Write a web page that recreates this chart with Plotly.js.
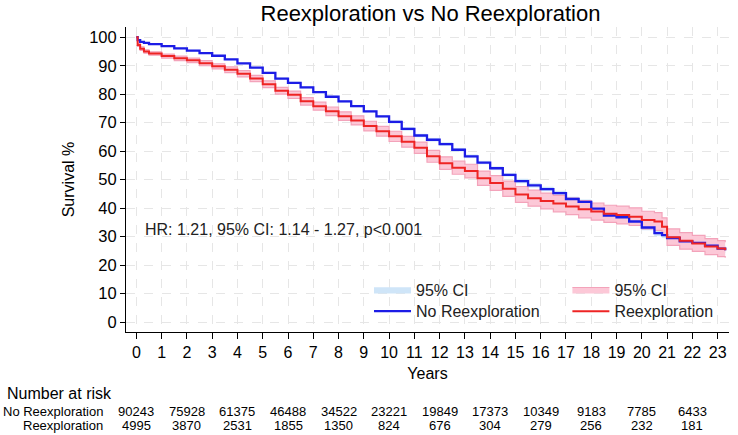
<!DOCTYPE html>
<html>
<head>
<meta charset="utf-8">
<script src="https://cdn.plot.ly/plotly-3.0.1.min.js"></script>
<style>html,body{margin:0;padding:0;background:#fff;}#chart{width:738px;height:435px;}</style>
</head>
<body>
<div id="chart"></div>
<script>
// Time points (years)
const years = [0,0.05,0.15,0.3,0.5,1,1.5,2,2.5,3,3.5,4,4.5,5,5.5,6,6.5,7,7.5,8,8.5,9,9.5,10,10.5,11,11.5,12,12.5,13,13.5,14,14.5,15,15.5,16,16.5,17,17.5,18,18.5,19,19.5,20,20.5,20.8,21,21.5,22,22.5,23,23.3];
// No Reexploration survival % and 95% CI
const survNo = [100,99.0,98.4,98.0,97.6,96.9,96.1,95.3,94.4,93.5,92.2,90.8,89.3,87.5,85.5,84.0,82.4,80.7,79.1,77.5,75.8,74.0,72.2,70.3,67.8,65.5,64.0,62.5,60.5,58.2,56.0,54.0,51.7,49.5,48.0,46.7,45.3,43.2,42.2,39.8,37.4,36.8,35.3,33.2,31.2,30.5,29.5,28.3,27.8,26.8,25.8,25.2];
const loNo = [100,98.8,98.2,97.8,97.4,96.7,95.9,95.1,94.2,93.3,92.0,90.6,89.1,87.2,85.2,83.7,82.1,80.4,78.8,77.2,75.5,73.7,71.9,69.8,67.3,65.0,63.5,62.0,60.0,57.7,55.5,53.5,51.2,48.8,47.3,46.0,44.6,42.5,41.5,39.1,36.7,36.1,34.6,32.3,30.3,29.6,28.6,27.4,26.9,25.9,24.9,24.3];
const hiNo = [100,99.2,98.6,98.2,97.8,97.1,96.3,95.5,94.6,93.7,92.4,91.0,89.5,87.8,85.8,84.3,82.7,81.0,79.4,77.8,76.1,74.3,72.5,70.8,68.3,66.0,64.5,63.0,61.0,58.7,56.5,54.5,52.2,50.2,48.7,47.4,46.0,43.9,42.9,40.5,38.1,37.5,36.0,34.1,32.1,31.4,30.4,29.2,28.7,27.7,26.7,26.1];
// Reexploration survival % and 95% CI
const survRe = [100,97.3,96.0,95.0,94.3,93.4,92.6,91.9,90.9,89.8,88.6,87.2,85.5,83.5,81.2,79.8,77.5,75.8,74.0,72.3,70.8,68.8,67.0,65.2,63.3,61.2,58.2,55.8,54.2,53.0,50.5,48.8,46.8,44.8,43.5,42.5,41.6,40.6,39.6,38.8,38.0,37.6,37.0,35.8,35.3,33.5,29.8,28.5,27.6,26.5,25.8,25.2];
const loRe = [100,96.8,95.4,94.4,93.7,92.7,91.8,91.1,90.0,88.9,87.6,86.1,84.4,82.3,80.0,78.5,76.2,74.4,72.5,70.8,69.2,67.1,65.3,63.4,61.4,59.2,56.1,53.6,51.9,50.6,48.0,46.2,44.1,42.0,40.7,39.7,38.7,37.7,36.6,35.8,35.0,34.5,33.9,32.7,32.2,30.4,26.9,25.6,24.8,23.7,23.0,22.6];
const hiRe = [100,97.8,96.6,95.6,94.9,94.1,93.4,92.7,91.8,90.7,89.6,88.3,86.6,84.7,82.4,81.1,78.8,77.2,75.5,73.8,72.4,70.5,68.7,67.0,65.2,63.2,60.3,58.0,56.5,55.4,53.0,51.4,49.5,47.6,46.3,45.3,44.5,43.5,42.6,41.8,41.0,40.7,40.1,38.9,38.4,36.6,32.7,31.4,30.4,29.3,28.6,28.0];
// Number at risk
const riskYears = [0,2,4,6,8,10,12,14,16,18,20,22];
const riskNo = [90243,75928,61375,46488,34522,23221,19849,17373,10349,9183,7785,6433];
const riskRe = [4995,3870,2531,1855,1350,824,676,304,279,256,232,181];
const groupNames = ['No Reexploration','Reexploration'];
const titleText = 'Reexploration vs No Reexploration';
const hrText = 'HR: 1.21, 95% CI: 1.14 - 1.27, p<0.001';

const FONT = 'Liberation Sans, Arial, sans-serif';
const BLUE = '#1c1ce6', RED = '#ee2424', LBLUE = '#cfe5f8', PINK = '#fcc8d7', PINKEDGE = '#f3a3ba';

const traces = [
  {x: years, y: loNo, mode: 'lines', line: {shape: 'hv', width: 0.5, color: LBLUE}, showlegend: false, hoverinfo: 'skip'},
  {x: years, y: hiNo, mode: 'lines', line: {shape: 'hv', width: 0.5, color: LBLUE}, fill: 'tonexty', fillcolor: LBLUE, name: '95% CI', legend: 'legend'},
  {x: years, y: loRe, mode: 'lines', line: {shape: 'hv', width: 1.2, color: PINKEDGE}, showlegend: false, hoverinfo: 'skip'},
  {x: years, y: hiRe, mode: 'lines', line: {shape: 'hv', width: 1.2, color: PINKEDGE}, fill: 'tonexty', fillcolor: PINK, name: '95% CI', legend: 'legend2'},
  {x: years, y: survNo, mode: 'lines', line: {shape: 'hv', width: 2.3, color: BLUE}, name: groupNames[0], legend: 'legend3'},
  {x: years, y: survRe, mode: 'lines', line: {shape: 'hv', width: 2, color: RED}, name: groupNames[1], legend: 'legend4'}
];

const annotations = [
  {xref: 'x', yref: 'y', x: 0.28, y: 32.5, xanchor: 'left', yanchor: 'middle', text: hrText, showarrow: false, font: {size: 16, color: '#222'}},
  {xref: 'paper', yref: 'paper', x: -0.2, y: -0.202, xanchor: 'left', yanchor: 'middle', text: 'Number at risk', showarrow: false, font: {size: 16, color: '#000'}},
  {xref: 'paper', yref: 'paper', x: -0.035, y: -0.260, xanchor: 'right', yanchor: 'middle', text: groupNames[0], showarrow: false, font: {size: 13, color: '#000'}},
  {xref: 'paper', yref: 'paper', x: -0.035, y: -0.306, xanchor: 'right', yanchor: 'middle', text: groupNames[1], showarrow: false, font: {size: 13, color: '#000'}}
];
riskYears.forEach((t, i) => {
  annotations.push({xref: 'x', yref: 'paper', x: t, y: -0.260, xanchor: 'center', yanchor: 'middle', text: String(riskNo[i]), showarrow: false, font: {size: 13, color: '#000'}});
  annotations.push({xref: 'x', yref: 'paper', x: t, y: -0.306, xanchor: 'center', yanchor: 'middle', text: String(riskRe[i]), showarrow: false, font: {size: 13, color: '#000'}});
});

const legendBase = {bgcolor: 'rgba(0,0,0,0)', font: {size: 16, color: '#222'}, itemwidth: 37, xanchor: 'left', yanchor: 'middle', orientation: 'v', itemclick: false, itemdoubleclick: false};

const layout = {
  width: 738, height: 435,
  margin: {l: 126, r: 9, t: 27, b: 103},
  paper_bgcolor: '#fff', plot_bgcolor: '#fff',
  font: {family: FONT, color: '#000'},
  title: {text: titleText, font: {size: 22, color: '#000'}, x: 0.505, xref: 'paper', xanchor: 'center', y: 0.97, yref: 'container', yanchor: 'middle'},
  xaxis: {
    range: [-0.41, 23.45], tickmode: 'linear', tick0: 0, dtick: 1,
    showline: true, linecolor: '#000', linewidth: 1, mirror: false,
    ticks: 'outside', ticklen: 6, tickcolor: '#000',
    showgrid: true, gridcolor: '#e6e6e6', griddash: 'dash', gridwidth: 1, zeroline: false,
    tickfont: {size: 16, color: '#000'},
    title: {text: 'Years', font: {size: 16, color: '#000'}, standoff: 7}
  },
  yaxis: {
    range: [-3.5, 103.6], tickmode: 'linear', tick0: 0, dtick: 10,
    showline: true, linecolor: '#000', linewidth: 1,
    ticks: 'outside', ticklen: 5, tickcolor: '#000',
    showgrid: true, gridcolor: '#e6e6e6', griddash: 'dash', gridwidth: 1, zeroline: false,
    tickfont: {size: 16.5, color: '#000'},
    title: {text: 'Survival %', font: {size: 16, color: '#000'}, standoff: 10}
  },
  legend: Object.assign({}, legendBase, {x: 0.403, y: 0.139}),
  legend2: Object.assign({}, legendBase, {x: 0.732, y: 0.139}),
  legend3: Object.assign({}, legendBase, {x: 0.403, y: 0.068}),
  legend4: Object.assign({}, legendBase, {x: 0.732, y: 0.068}),
  annotations: annotations,
  showlegend: true
};

Plotly.newPlot('chart', traces, layout, {displayModeBar: false, staticPlot: true});
</script>
</body>
</html>
